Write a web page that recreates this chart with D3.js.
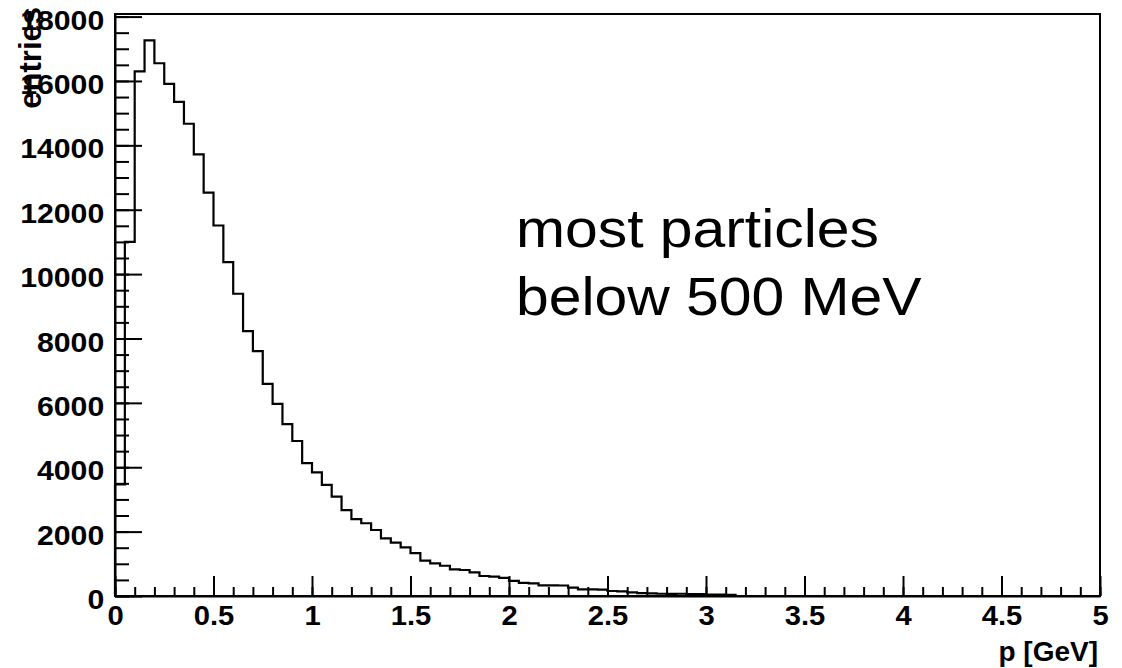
<!DOCTYPE html>
<html>
<head>
<meta charset="utf-8">
<script src="https://cdn.jsdelivr.net/npm/d3@7"></script>
<style>
  html, body { margin: 0; padding: 0; background: #fff; }
  svg { display: block; }
</style>
</head>
<body>
<svg id="chart" width="1122" height="668"></svg>
<script>
// ---- data ----
const binWidth = 0.05;
const binStarts = d3.range(0, 100).map(i => +(i * 0.05).toFixed(2));
const counts = [
  3470, 11000, 16300, 17260, 16550, 15910, 15350, 14670, 13720, 12530,
  11510, 10370, 9390, 8230, 7610, 6590, 5970, 5340, 4815, 4130,
  3840, 3450, 3090, 2670, 2390, 2260, 2050, 1790, 1660, 1510,
  1330, 1100, 1015, 940, 830, 808, 736, 621, 600, 560,
  472, 410, 390, 332, 330, 326, 258, 208, 208, 200,
  155, 146, 115, 90, 80, 70, 65, 70, 60, 60,
  45, 40, 35, 0, 0, 0, 0, 0, 0, 0,
  0, 0, 0, 0, 0, 0, 0, 0, 0, 0,
  0, 0, 0, 0, 0, 0, 0, 0, 0, 0,
  0, 0, 0, 0, 0, 0, 0, 0, 0, 0
];
const xMajorTicks = [0, 0.5, 1, 1.5, 2, 2.5, 3, 3.5, 4, 4.5, 5];
const xTickLabels = ["0", "0.5", "1", "1.5", "2", "2.5", "3", "3.5", "4", "4.5", "5"];
const xMinorTicks = d3.range(0, 51).map(i => +(i * 0.1).toFixed(2));
const yMajorTicks = [0, 2000, 4000, 6000, 8000, 10000, 12000, 14000, 16000, 18000];
const yMinorTicks = d3.range(0, 37).map(i => i * 500);
const xTitle = "p [GeV]";
const yTitle = "entries";
const noteLines = ["most particles", "below 500 MeV"];

// ---- layout ----
const svg = d3.select("#chart");
const pLeft = 115, pRight = 1100, pTop = 14, pBottom = 596;
const x = d3.scaleLinear().domain([0, 5]).range([pLeft, pRight]);
const y = d3.scaleLinear().domain([0, 18080]).range([pBottom, pTop]);
const labelFont = "'Liberation Sans', Arial, Helvetica, sans-serif";
const stretch = 1.08;

// histogram outline (step path)
const pts = [[0, 0]];
binStarts.forEach((b, i) => {
  pts.push([b, counts[i]]);
  pts.push([b + binWidth, counts[i]]);
});
pts.push([5, 0]);
const line = d3.line().x(d => x(d[0])).y(d => y(d[1]));
svg.append("path")
  .attr("d", line(pts))
  .attr("fill", "none")
  .attr("stroke", "#000")
  .attr("stroke-width", 2.2)
  .attr("stroke-linejoin", "miter");

// frame
svg.append("rect")
  .attr("x", pLeft).attr("y", pTop)
  .attr("width", pRight - pLeft).attr("height", pBottom - pTop)
  .attr("fill", "none").attr("stroke", "#000").attr("stroke-width", 2);

// x minor ticks
svg.append("g")
  .attr("transform", `translate(0,${pBottom})`)
  .call(d3.axisBottom(x).tickValues(xMinorTicks).tickSizeInner(-9).tickSizeOuter(0).tickFormat(""))
  .call(g => g.select(".domain").remove())
  .call(g => g.selectAll("line").attr("stroke", "#000").attr("stroke-width", 2));

// x major ticks + labels
svg.append("g")
  .attr("transform", `translate(0,${pBottom})`)
  .call(d3.axisBottom(x).tickValues(xMajorTicks).tickSizeInner(-20).tickSizeOuter(0).tickPadding(10)
    .tickFormat((d, i) => xTickLabels[i]))
  .call(g => g.select(".domain").attr("stroke", "#000").attr("stroke-width", 2))
  .call(g => g.selectAll("line").attr("stroke", "#000").attr("stroke-width", 2))
  .call(g => g.selectAll("text")
    .attr("fill", "#000")
    .attr("font-family", labelFont).attr("font-weight", "bold").attr("font-size", 27)
    .attr("transform", `scale(${stretch},1)`));

// y minor ticks
svg.append("g")
  .attr("transform", `translate(${pLeft},0)`)
  .call(d3.axisLeft(y).tickValues(yMinorTicks).tickSizeInner(-14).tickSizeOuter(0).tickFormat(""))
  .call(g => g.select(".domain").remove())
  .call(g => g.selectAll("line").attr("stroke", "#000").attr("stroke-width", 2));

// y major ticks + labels
svg.append("g")
  .attr("transform", `translate(${pLeft},0)`)
  .call(d3.axisLeft(y).tickValues(yMajorTicks).tickSizeInner(-27).tickSizeOuter(0).tickPadding(10)
    .tickFormat(d3.format("d")))
  .call(g => g.select(".domain").attr("stroke", "#000").attr("stroke-width", 2))
  .call(g => g.selectAll("line").attr("stroke", "#000").attr("stroke-width", 2))
  .call(g => g.selectAll("text")
    .attr("fill", "#000")
    .attr("dy", "0.45em")
    .attr("font-family", labelFont).attr("font-weight", "bold").attr("font-size", 28)
    .attr("transform", `scale(${stretch},1)`));

// axis titles
svg.append("text")
  .attr("x", 1098).attr("y", 661)
  .attr("text-anchor", "end")
  .attr("font-family", labelFont).attr("font-weight", "bold").attr("font-size", 28)
  .text(xTitle);

svg.append("text")
  .attr("transform", "translate(41,7) rotate(-90)")
  .attr("text-anchor", "end")
  .attr("font-family", labelFont).attr("font-weight", "bold").attr("font-size", 31)
  .text(yTitle);

// annotation
const note = svg.append("g").attr("transform", `translate(516,0) scale(1.10,1)`);
note.selectAll("text").data(noteLines).join("text")
  .attr("x", 0)
  .attr("y", (d, i) => 247 + i * 68)
  .attr("font-family", labelFont).attr("font-size", 53.5)
  .attr("fill", "#000")
  .text(d => d);
</script>
</body>
</html>
